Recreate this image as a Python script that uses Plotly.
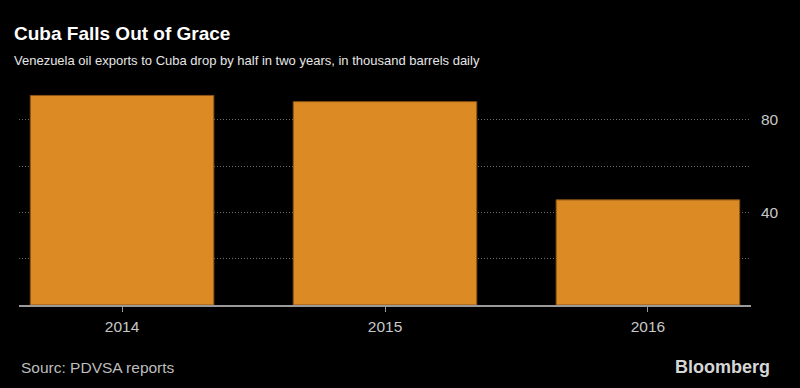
import plotly.graph_objects as go

categories = ["2014", "2015", "2016"]
exports = [90.5, 87.8, 45.4]
ytick_vals = [20, 40, 60, 80]
ytick_text = ["", "40", "", "80"]

BAR = "#DB8A24"
W, H = 800, 388
ML, MR, MT, MB = 19, 49, 85, 83
PW = W - ML - MR
PH = H - MT - MB


def px_x(px):
    return (px - ML) / PW


def px_y(py):
    return (H - MB - py) / PH


fig = go.Figure(
    go.Bar(
        x=[0, 1, 2],
        y=exports,
        marker=dict(color=BAR, line=dict(color="#8a5516", width=1)),
        width=0.698,
        hoverinfo="skip",
    )
)

fig.update_layout(
    width=W,
    height=H,
    paper_bgcolor="black",
    plot_bgcolor="black",
    margin=dict(l=ML, r=MR, t=MT, b=MB),
    showlegend=False,
    font=dict(family="Liberation Sans, Arial, sans-serif", color="#c8c8c8"),
    xaxis=dict(
        range=[-0.392, 2.392],
        tickvals=[0, 1, 2],
        ticktext=categories,
        showgrid=False,
        zeroline=False,
        showline=True,
        linecolor="#9a9a9a",
        linewidth=1.5,
        ticks="outside",
        ticklen=5,
        tickcolor="#9a9a9a",
        tickwidth=1,
        ticklabelstandoff=2,
        tickfont=dict(size=15.5, color="#c8c8c8"),
        fixedrange=True,
    ),
    yaxis=dict(
        range=[0, 95],
        side="right",
        tickvals=ytick_vals,
        ticktext=ytick_text,
        showgrid=True,
        gridcolor="#6e6e6e",
        gridwidth=1,
        griddash="1px,2px",
        zeroline=False,
        showline=False,
        ticks="",
        ticklabelstandoff=9,
        tickfont=dict(size=15.5, color="#c8c8c8"),
        fixedrange=True,
    ),
    annotations=[
        dict(
            text="<b>Cuba Falls Out of Grace</b>",
            xref="paper", yref="paper",
            x=px_x(12), y=px_y(34),
            xanchor="left", yanchor="middle",
            showarrow=False,
            font=dict(size=19, color="white"),
        ),
        dict(
            text="Venezuela oil exports to Cuba drop by half in two years, in thousand barrels daily",
            xref="paper", yref="paper",
            x=px_x(12), y=px_y(61),
            xanchor="left", yanchor="middle",
            showarrow=False,
            font=dict(size=13, color="#e6e6e6"),
        ),
        dict(
            text="Sourc: PDVSA reports",
            xref="paper", yref="paper",
            x=px_x(19), y=px_y(367),
            xanchor="left", yanchor="middle",
            showarrow=False,
            font=dict(size=15.5, color="#bdbdbd"),
        ),
        dict(
            text="<b>Bloomberg</b>",
            xref="paper", yref="paper",
            x=px_x(772), y=px_y(367),
            xanchor="right", yanchor="middle",
            showarrow=False,
            font=dict(size=18, color="#d6d6d6"),
        ),
    ],
)

fig.write_html(
    "out.html",
    config={"displayModeBar": False, "staticPlot": True},
    post_script="document.body.style.margin='0';document.body.style.background='black';",
)
